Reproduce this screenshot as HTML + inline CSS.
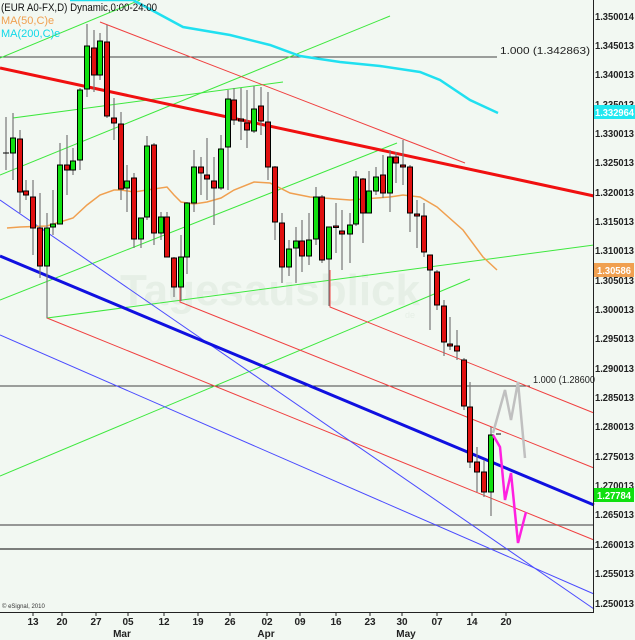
<!DOCTYPE html>
<html><head><meta charset="utf-8"><style>
body{margin:0;background:#f2f8f2;}
svg{display:block;font-family:"Liberation Sans",sans-serif;}
</style></head><body>
<svg width="635" height="640" viewBox="0 0 635 640" xmlns="http://www.w3.org/2000/svg">
<rect width="635" height="640" fill="#f2f8f2"/>
<text x="120" y="305" font-size="44" font-weight="bold" fill="#e6efe6">Tagesausblick</text>
<text x="405" y="318" font-size="9" fill="#e6efe6">de</text>
<line x1="0" y1="57" x2="497" y2="57" stroke="#444" stroke-width="1"/>
<line x1="0" y1="386" x2="530" y2="386" stroke="#444" stroke-width="1"/>
<line x1="0" y1="525" x2="594" y2="525" stroke="#777" stroke-width="1.5"/>
<line x1="0" y1="549" x2="594" y2="549" stroke="#555" stroke-width="1.5"/>
<text x="500" y="54" font-size="10" fill="#222" textLength="90" lengthAdjust="spacingAndGlyphs">1.000 (1.342863)</text>
<text x="533" y="383" font-size="10" fill="#222" textLength="62" lengthAdjust="spacingAndGlyphs">1.000 (1.28600</text>
<g stroke="#3ee83e" stroke-width="1" fill="none">
<line x1="0" y1="58" x2="140" y2="0"/>
<line x1="0" y1="175" x2="390" y2="16"/>
<polyline points="13,158 13,118 283,82"/>
<line x1="0" y1="300" x2="397" y2="143"/>
<polyline points="47,300 47,318 594,245"/>
<line x1="0" y1="476" x2="470" y2="279"/>
</g>
<g stroke="#f04040" stroke-width="1" fill="none">
<line x1="100" y1="22" x2="465" y2="163"/>
<polyline points="180,270 180,302 594,468"/>
<polyline points="330,270 330,307 594,413"/>
<line x1="47" y1="318" x2="594" y2="540"/>
</g>
<g stroke="#4a4aff" stroke-width="1" fill="none">
<line x1="0" y1="200" x2="594" y2="609"/>
<line x1="0" y1="335" x2="594" y2="594"/>
</g>
<line x1="0" y1="256" x2="594" y2="505" stroke="#1010e0" stroke-width="3"/>
<line x1="0" y1="68" x2="594" y2="196" stroke="#f01010" stroke-width="3"/>
<polyline fill="none" stroke="#20e0f0" stroke-width="2.5" points="70,0 133,0 183,27 230,35 270,45 300,56 340,62 380,66 420,72 440,80 470,100 498,113"/>
<polyline fill="none" stroke="#f0a050" stroke-width="1.5" points="7,228 20,227 47,226 60,222 73,218 87,205 100,195 114,190 121,190 134,192 147,190 167,187 174,195 181,202 194,204 207,202 221,198 234,190 254,182 270,183 290,193 310,197 350,200 390,197 403,195 420,197 437,207 463,230 483,257 497,270"/>
<g stroke="#777" stroke-width="1.2">
<line x1="6" y1="117" x2="6" y2="170"/><line x1="13" y1="113" x2="13" y2="180"/><line x1="20" y1="130" x2="20" y2="213"/><line x1="26" y1="180" x2="26" y2="200"/><line x1="33" y1="180" x2="33" y2="255"/><line x1="40" y1="193" x2="40" y2="278"/><line x1="47" y1="213" x2="47" y2="318"/><line x1="53" y1="190" x2="53" y2="235"/><line x1="60" y1="143" x2="60" y2="224"/><line x1="67" y1="135" x2="67" y2="195"/><line x1="73" y1="148" x2="73" y2="175"/><line x1="80" y1="88" x2="80" y2="170"/><line x1="87" y1="24" x2="87" y2="97"/><line x1="94" y1="30" x2="94" y2="92"/><line x1="100" y1="33" x2="100" y2="80"/><line x1="107" y1="25" x2="107" y2="118"/><line x1="114" y1="98" x2="114" y2="140"/><line x1="121" y1="112" x2="121" y2="200"/><line x1="127" y1="165" x2="127" y2="212"/><line x1="134" y1="173" x2="134" y2="248"/><line x1="141" y1="218" x2="141" y2="248"/><line x1="147" y1="136" x2="147" y2="220"/><line x1="154" y1="143" x2="154" y2="245"/><line x1="161" y1="212" x2="161" y2="240"/><line x1="167" y1="212" x2="167" y2="257"/><line x1="174" y1="257" x2="174" y2="297"/><line x1="181" y1="235" x2="181" y2="301"/><line x1="187" y1="202" x2="187" y2="274"/><line x1="194" y1="150" x2="194" y2="212"/><line x1="201" y1="157" x2="201" y2="195"/><line x1="207" y1="138" x2="207" y2="200"/><line x1="214" y1="157" x2="214" y2="225"/><line x1="221" y1="135" x2="221" y2="190"/><line x1="228" y1="90" x2="228" y2="190"/><line x1="234" y1="88" x2="234" y2="125"/><line x1="241" y1="88" x2="241" y2="140"/><line x1="247" y1="90" x2="247" y2="148"/><line x1="254" y1="86" x2="254" y2="133"/><line x1="261" y1="87" x2="261" y2="135"/><line x1="268" y1="92" x2="268" y2="180"/><line x1="275" y1="166" x2="275" y2="240"/><line x1="282" y1="213" x2="282" y2="283"/><line x1="289" y1="240" x2="289" y2="276"/><line x1="296" y1="227" x2="296" y2="283"/><line x1="302" y1="220" x2="302" y2="272"/><line x1="309" y1="213" x2="309" y2="265"/><line x1="316" y1="187" x2="316" y2="245"/><line x1="322" y1="195" x2="322" y2="263"/><line x1="329" y1="227" x2="329" y2="306"/><line x1="336" y1="203" x2="336" y2="253"/><line x1="342" y1="210" x2="342" y2="270"/><line x1="350" y1="213" x2="350" y2="263"/><line x1="356" y1="171" x2="356" y2="226"/><line x1="363" y1="178" x2="363" y2="243"/><line x1="369" y1="171" x2="369" y2="213"/><line x1="376" y1="167" x2="376" y2="195"/><line x1="383" y1="155" x2="383" y2="198"/><line x1="390" y1="150" x2="390" y2="212"/><line x1="396" y1="152" x2="396" y2="183"/><line x1="403" y1="140" x2="403" y2="185"/><line x1="410" y1="165" x2="410" y2="232"/><line x1="417" y1="200" x2="417" y2="248"/><line x1="424" y1="203" x2="424" y2="257"/><line x1="430" y1="255" x2="430" y2="330"/><line x1="437" y1="270" x2="437" y2="310"/><line x1="444" y1="300" x2="444" y2="356"/><line x1="450" y1="317" x2="450" y2="350"/><line x1="457" y1="330" x2="457" y2="360"/><line x1="464" y1="358" x2="464" y2="410"/><line x1="470" y1="382" x2="470" y2="468"/><line x1="477" y1="447" x2="477" y2="492"/><line x1="484" y1="460" x2="484" y2="497"/><line x1="491" y1="427" x2="491" y2="516"/>
</g>
<g stroke="#000" stroke-width="1">
<line x1="3" y1="153" x2="9" y2="153"/>
<rect x="10.5" y="138" width="5" height="15" fill="#10e010"/>
<rect x="17.5" y="139" width="5" height="53" fill="#e01010"/>
<rect x="23.5" y="191" width="5" height="4" fill="#e01010"/>
<rect x="30.5" y="197" width="5" height="31" fill="#e01010"/>
<rect x="37.5" y="228" width="5" height="38" fill="#e01010"/>
<rect x="44.5" y="228" width="5" height="38" fill="#10e010"/>
<rect x="50.5" y="224" width="5" height="3" fill="#10e010"/>
<rect x="57.5" y="165" width="5" height="59" fill="#10e010"/>
<rect x="64.5" y="165" width="5" height="5" fill="#e01010"/>
<rect x="70.5" y="161" width="5" height="9" fill="#10e010"/>
<rect x="77.5" y="90" width="5" height="70" fill="#10e010"/>
<rect x="84.5" y="46" width="5" height="43" fill="#10e010"/>
<rect x="91.5" y="48" width="5" height="27" fill="#e01010"/>
<rect x="97.5" y="41" width="5" height="34" fill="#10e010"/>
<rect x="104.5" y="42" width="5" height="74" fill="#e01010"/>
<rect x="111.5" y="118" width="5" height="5" fill="#e01010"/>
<rect x="118.5" y="124" width="5" height="65" fill="#e01010"/>
<rect x="124.5" y="181" width="5" height="7" fill="#10e010"/>
<rect x="131.5" y="178" width="5" height="61" fill="#e01010"/>
<rect x="138.5" y="218" width="5" height="21" fill="#10e010"/>
<rect x="144.5" y="146" width="5" height="71" fill="#10e010"/>
<rect x="151.5" y="145" width="5" height="88" fill="#e01010"/>
<rect x="158.5" y="217" width="5" height="16" fill="#10e010"/>
<rect x="164.5" y="217" width="5" height="40" fill="#e01010"/>
<rect x="171.5" y="258" width="5" height="29" fill="#e01010"/>
<rect x="178.5" y="257" width="5" height="30" fill="#10e010"/>
<rect x="184.5" y="203" width="5" height="54" fill="#10e010"/>
<rect x="191.5" y="167" width="5" height="36" fill="#10e010"/>
<rect x="198.5" y="167" width="5" height="6" fill="#e01010"/>
<rect x="204.5" y="175" width="5" height="4" fill="#e01010"/>
<rect x="211.5" y="181" width="5" height="7" fill="#e01010"/>
<rect x="218.5" y="149" width="5" height="39" fill="#10e010"/>
<rect x="225.5" y="99" width="5" height="48" fill="#10e010"/>
<rect x="231.5" y="100" width="5" height="20" fill="#e01010"/>
<rect x="238.5" y="119" width="5" height="2" fill="#e01010"/>
<rect x="244.5" y="123" width="5" height="7" fill="#e01010"/>
<rect x="251.5" y="109" width="5" height="22" fill="#10e010"/>
<rect x="258.5" y="106" width="5" height="15" fill="#e01010"/>
<rect x="265.5" y="122" width="5" height="45" fill="#e01010"/>
<rect x="272.5" y="167" width="5" height="55" fill="#e01010"/>
<rect x="279.5" y="223" width="5" height="44" fill="#e01010"/>
<rect x="286.5" y="249" width="5" height="18" fill="#10e010"/>
<rect x="293.5" y="241" width="5" height="7" fill="#10e010"/>
<rect x="299.5" y="241" width="5" height="15" fill="#e01010"/>
<rect x="306.5" y="240" width="5" height="16" fill="#10e010"/>
<rect x="313.5" y="197" width="5" height="42" fill="#10e010"/>
<rect x="319.5" y="197" width="5" height="63" fill="#e01010"/>
<rect x="326.5" y="227" width="5" height="32" fill="#10e010"/>
<rect x="333.5" y="226" width="5" height="1.5" fill="#e01010"/>
<rect x="339.5" y="231" width="5" height="3" fill="#e01010"/>
<rect x="347.5" y="225" width="5" height="9" fill="#10e010"/>
<rect x="353.5" y="177" width="5" height="47" fill="#10e010"/>
<rect x="360.5" y="179" width="5" height="34" fill="#e01010"/>
<rect x="366.5" y="191" width="5" height="22" fill="#10e010"/>
<rect x="373.5" y="177" width="5" height="14" fill="#10e010"/>
<rect x="380.5" y="175" width="5" height="18" fill="#e01010"/>
<rect x="387.5" y="157" width="5" height="36" fill="#10e010"/>
<rect x="393.5" y="157" width="5" height="6" fill="#e01010"/>
<rect x="400.5" y="165" width="5" height="2" fill="#e01010"/>
<rect x="407.5" y="167" width="5" height="46" fill="#e01010"/>
<rect x="414.5" y="214" width="5" height="2" fill="#e01010"/>
<rect x="421.5" y="216" width="5" height="36" fill="#e01010"/>
<rect x="427.5" y="255" width="5" height="15" fill="#e01010"/>
<rect x="434.5" y="272" width="5" height="33" fill="#e01010"/>
<rect x="441.5" y="306" width="5" height="36" fill="#e01010"/>
<rect x="447.5" y="344" width="5" height="2" fill="#e01010"/>
<rect x="454.5" y="346" width="5" height="5" fill="#e01010"/>
<rect x="461.5" y="360" width="5" height="46" fill="#e01010"/>
<rect x="467.5" y="407" width="5" height="55" fill="#e01010"/>
<rect x="474.5" y="462" width="5" height="10" fill="#e01010"/>
<rect x="481.5" y="472" width="5" height="20" fill="#e01010"/>
<rect x="488.5" y="435" width="5" height="57" fill="#10e010"/>
<line x1="496" y1="434" x2="501" y2="434"/>
</g>
<polyline fill="none" stroke="#c0c0c0" stroke-width="2.5" points="493,433 505,390 511,420 518,382 525,458"/>
<polyline fill="none" stroke="#ff20e0" stroke-width="2.5" points="493,435 500,447 505,500 511,473 518,543 526,512"/>
<text x="1" y="11" font-size="11" fill="#111" textLength="156" lengthAdjust="spacingAndGlyphs">(EUR A0-FX,D) Dynamic,0:00-24:00</text>
<text x="1" y="24" font-size="11" fill="#f0a050">MA(50,C)e</text>
<text x="1" y="37" font-size="11" fill="#10d8e8">MA(200,C)e</text>
<text x="2" y="608" font-size="6" fill="#333">© eSignal, 2010</text>
<line x1="593.5" y1="0" x2="593.5" y2="613" stroke="#222" stroke-width="1"/>
<line x1="0" y1="612.5" x2="594" y2="612.5" stroke="#222" stroke-width="1"/>
<g font-size="10" font-weight="bold" fill="#222">
<text x="595" y="20" textLength="39" lengthAdjust="spacingAndGlyphs">1.350014</text>
<text x="595" y="49" textLength="39" lengthAdjust="spacingAndGlyphs">1.345013</text>
<text x="595" y="78" textLength="39" lengthAdjust="spacingAndGlyphs">1.340013</text>
<text x="595" y="108" textLength="39" lengthAdjust="spacingAndGlyphs">1.335013</text>
<text x="595" y="137" textLength="39" lengthAdjust="spacingAndGlyphs">1.330013</text>
<text x="595" y="166" textLength="39" lengthAdjust="spacingAndGlyphs">1.325013</text>
<text x="595" y="196" textLength="39" lengthAdjust="spacingAndGlyphs">1.320013</text>
<text x="595" y="225" textLength="39" lengthAdjust="spacingAndGlyphs">1.315013</text>
<text x="595" y="254" textLength="39" lengthAdjust="spacingAndGlyphs">1.310013</text>
<text x="595" y="284" textLength="39" lengthAdjust="spacingAndGlyphs">1.305013</text>
<text x="595" y="313" textLength="39" lengthAdjust="spacingAndGlyphs">1.300013</text>
<text x="595" y="342" textLength="39" lengthAdjust="spacingAndGlyphs">1.295013</text>
<text x="595" y="372" textLength="39" lengthAdjust="spacingAndGlyphs">1.290013</text>
<text x="595" y="401" textLength="39" lengthAdjust="spacingAndGlyphs">1.285013</text>
<text x="595" y="430" textLength="39" lengthAdjust="spacingAndGlyphs">1.280013</text>
<text x="595" y="460" textLength="39" lengthAdjust="spacingAndGlyphs">1.275013</text>
<text x="595" y="489" textLength="39" lengthAdjust="spacingAndGlyphs">1.270013</text>
<text x="595" y="518" textLength="39" lengthAdjust="spacingAndGlyphs">1.265013</text>
<text x="595" y="548" textLength="39" lengthAdjust="spacingAndGlyphs">1.260013</text>
<text x="595" y="577" textLength="39" lengthAdjust="spacingAndGlyphs">1.255013</text>
<text x="595" y="607" textLength="39" lengthAdjust="spacingAndGlyphs">1.250013</text>
</g>
<rect x="594" y="105" width="41" height="14" fill="#20e8f0"/>
<text x="595" y="116" font-size="10" font-weight="bold" fill="#fff" textLength="39" lengthAdjust="spacingAndGlyphs">1.332964</text>
<rect x="594" y="263" width="40" height="14" fill="#f0a050"/>
<text x="597" y="274" font-size="10" font-weight="bold" fill="#fff" textLength="34" lengthAdjust="spacingAndGlyphs">1.30586</text>
<rect x="594" y="488" width="40" height="14" fill="#10e010"/>
<text x="597" y="499" font-size="10" font-weight="bold" fill="#fff" textLength="34" lengthAdjust="spacingAndGlyphs">1.27784</text>
<g stroke="#222"><line x1="33" y1="612" x2="33" y2="616"/><line x1="62" y1="612" x2="62" y2="616"/><line x1="96" y1="612" x2="96" y2="616"/><line x1="128" y1="612" x2="128" y2="616"/><line x1="164" y1="612" x2="164" y2="616"/><line x1="198" y1="612" x2="198" y2="616"/><line x1="230" y1="612" x2="230" y2="616"/><line x1="267" y1="612" x2="267" y2="616"/><line x1="300" y1="612" x2="300" y2="616"/><line x1="336" y1="612" x2="336" y2="616"/><line x1="370" y1="612" x2="370" y2="616"/><line x1="402" y1="612" x2="402" y2="616"/><line x1="437" y1="612" x2="437" y2="616"/><line x1="472" y1="612" x2="472" y2="616"/><line x1="506" y1="612" x2="506" y2="616"/></g>
<g font-size="10" font-weight="bold" fill="#222" text-anchor="middle">
<text x="33" y="625">13</text><text x="62" y="625">20</text><text x="96" y="625">27</text><text x="128" y="625">05</text><text x="164" y="625">12</text><text x="198" y="625">19</text><text x="230" y="625">26</text><text x="267" y="625">02</text><text x="300" y="625">09</text><text x="336" y="625">16</text><text x="370" y="625">23</text><text x="402" y="625">30</text><text x="437" y="625">07</text><text x="472" y="625">14</text><text x="506" y="625">20</text>
<text x="122" y="637">Mar</text><text x="266" y="637">Apr</text><text x="406" y="637">May</text>
</g>
</svg>
</body></html>
